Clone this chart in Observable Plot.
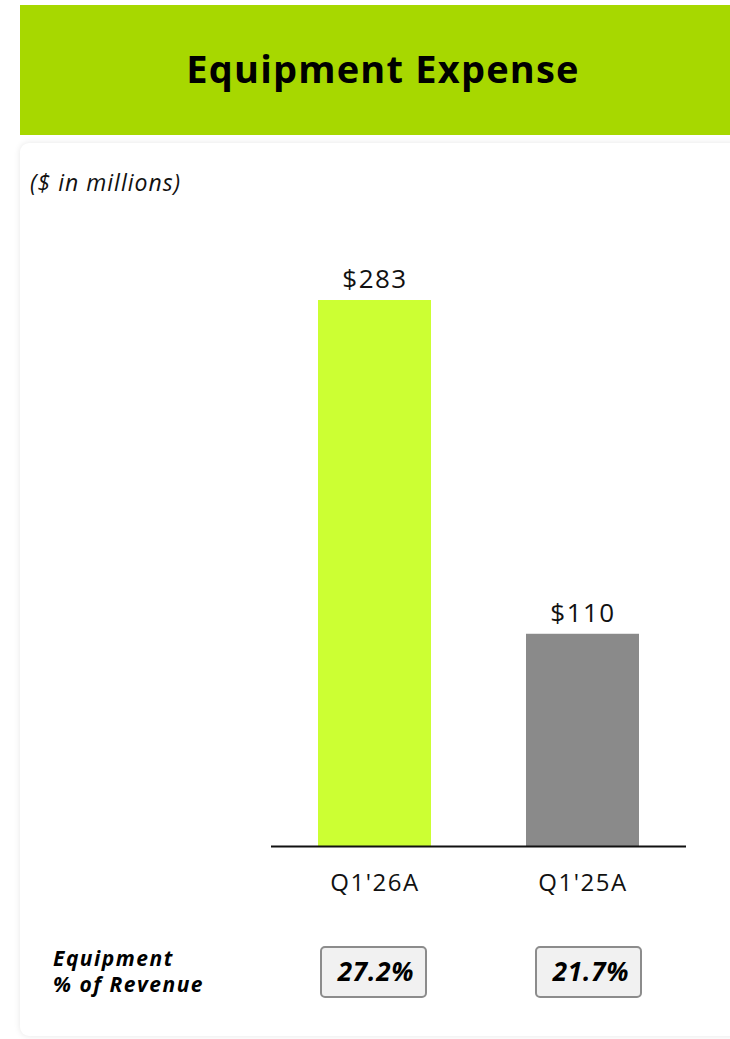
<!DOCTYPE html>
<html>
<head>
<meta charset="utf-8">
<script src="https://cdn.jsdelivr.net/npm/d3@7"></script>
<script src="https://cdn.jsdelivr.net/npm/@observablehq/plot@0.6"></script>
<style>
  html, body { margin: 0; padding: 0; background: #fff; width: 730px; height: 1039px; overflow: hidden; font-family: "Open Sans", sans-serif; }
  #header { position: absolute; left: 20px; top: 5px; width: 710px; height: 130px; background: #a7d800;
    display: flex; align-items: center; justify-content: center; box-sizing: border-box; padding-left: 16px; padding-bottom: 4px;
    font-weight: 700; font-size: 38px; letter-spacing: 1.2px; color: #000; }
  #card { position: absolute; left: 20px; top: 143px; width: 730px; height: 893px; background: #fff;
    border-radius: 9px 0 0 9px; box-shadow: 0 0 6px rgba(0,0,0,0.10); }
  #unit { position: absolute; left: 30px; top: 166px; font-style: italic; font-size: 23px; letter-spacing: 1px; color: #111; }
  #chart { position: absolute; left: 0; top: 200px; }
  #pct { position: absolute; left: 0; top: 946px; }
  #pctlabel { position: absolute; left: 53px; top: 945px; font-style: italic; font-weight: 700; font-size: 21px; letter-spacing: 1.5px; line-height: 26px; color: #000; }
</style>
</head>
<body>
<div id="header">Equipment Expense</div>
<div id="card"></div>
<div id="unit">($ in millions)</div>
<div id="chart"></div>
<div id="pctlabel">Equipment<br>% of Revenue</div>
<div id="pct"></div>
<script>
const periods = ["Q1'26A", "Q1'25A"];
const expense = [283, 110];
const pctOfRevenue = ["27.2%", "21.7%"];
const barColors = ["#ccff33", "#8a8a8a"];

const data = periods.map((p, i) => ({period: p, value: expense[i], pct: pctOfRevenue[i]}));

const chart = Plot.plot({
  width: 730,
  height: 700,
  marginLeft: 271,
  marginRight: 44,
  marginTop: 100,
  marginBottom: 54,
  style: {fontFamily: "Open Sans, sans-serif", background: "transparent", overflow: "visible"},
  x: {domain: periods, paddingInner: 0.457, paddingOuter: 0.226, label: null},
  y: {domain: [0, 283], axis: null},
  color: {domain: periods, range: barColors},
  marks: [
    Plot.barY(data, {x: "period", y: "value", fill: "period"}),
    Plot.text(data, {x: "period", y: "value", text: d => "$" + d.value, dy: -21, fontSize: 26, fill: "#111"}),
    Plot.ruleY([0], {stroke: "#111", strokeWidth: 2}),
    Plot.axisX({tickSize: 0, tickPadding: 27, fontSize: 24, fill: "#111"})
  ]
});
chart.querySelectorAll("text").forEach(t => t.setAttribute("letter-spacing", "1.5"));
document.getElementById("chart").appendChild(chart);

const boxShift = [0, 7];
const pctMarks = data.map((d, i) => [
  Plot.cell([d], {x: "period", y: () => "r", fill: "#f1f1f1", stroke: "#8c8c8c", strokeWidth: 2, rx: 4, insetLeft: 3, insetRight: 5, dx: boxShift[i]}),
  Plot.text([d], {x: "period", y: () => "r", text: "pct", fontSize: 26, fontWeight: 700, fontStyle: "italic", fill: "#000", dx: boxShift[i] + 1})
]).flat();

const pct = Plot.plot({
  width: 730,
  height: 52,
  marginLeft: 271,
  marginRight: 44,
  marginTop: 1,
  marginBottom: 1,
  style: {fontFamily: "Open Sans, sans-serif", background: "transparent", overflow: "visible"},
  x: {domain: periods, paddingInner: 0.457, paddingOuter: 0.226, axis: null},
  y: {domain: ["r"], axis: null, padding: 0},
  marks: pctMarks
});
pct.querySelectorAll("text").forEach(t => t.setAttribute("letter-spacing", "0.8"));
document.getElementById("pct").appendChild(pct);
</script>
</body>
</html>
